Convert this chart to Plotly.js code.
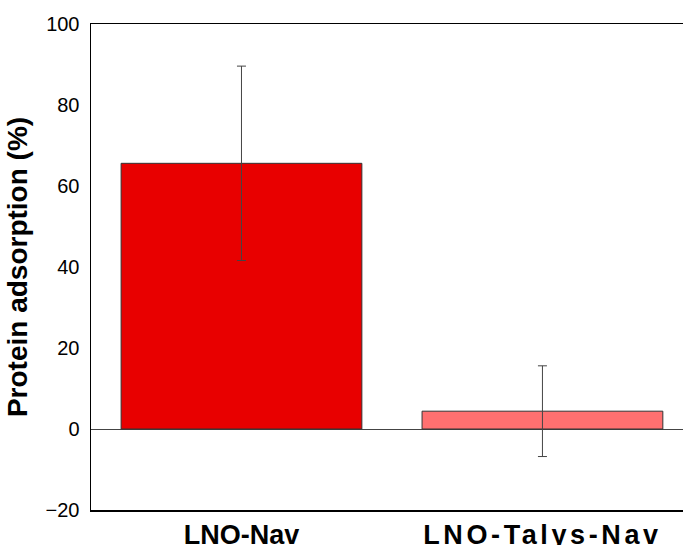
<!DOCTYPE html>
<html><head><meta charset="utf-8">
<script src="https://cdn.plot.ly/plotly-3.0.1.min.js"></script>
<style>html,body{margin:0;padding:0;background:#fff;}#chart{width:683px;height:545px;}
#chart .xtick:nth-of-type(2) text{letter-spacing:3.6px;}</style>
</head><body><div id="chart"></div>
<script>
const categories = ["LNO-Nav", "LNO-Talys-Nav"];
const adsorption = [65.6, 4.4];
const errors = [24.0, 11.2];
const barColors = ["#E80000", "#FF7070"];
const yTicks = [-20, 0, 20, 40, 60, 80, 100];

const trace = {
  type: "bar",
  x: [0, 1],
  y: adsorption,
  width: 0.8,
  marker: {color: barColors, line: {color: "#333", width: 1}},
  error_y: {type: "data", array: errors, visible: true, color: "#444", thickness: 1, width: 4.5}
};

const layout = {
  width: 683, height: 545,
  margin: {l: 91, r: 0, t: 24, b: 35},
  paper_bgcolor: "#fff", plot_bgcolor: "#fff",
  showlegend: false,
  xaxis: {
    range: [-0.5, 1.467],
    tickmode: "array", tickvals: [0, 1], ticktext: categories,
    ticks: "", showgrid: false, zeroline: false,
    showline: true, mirror: true, linecolor: "#000", linewidth: 1.5,
    tickfont: {family: "Arial, Liberation Sans, sans-serif", size: 27, color: "#000", weight: "bold"},
    ticklabelstandoff: 0
  },
  yaxis: {
    range: [-20, 100],
    tickmode: "array", tickvals: yTicks,
    ticks: "", showgrid: false,
    zeroline: true, zerolinecolor: "#444", zerolinewidth: 1,
    showline: true, linecolor: "#000", linewidth: 1.5,
    tickfont: {family: "Arial, Liberation Sans, sans-serif", size: 20, color: "#000"},
    ticklabelstandoff: 6,
    title: {text: "Protein adsorption (%)", standoff: 10,
      font: {family: "Arial, Liberation Sans, sans-serif", size: 28, color: "#000", weight: "bold"}}
  }
};

Plotly.newPlot("chart", [trace], layout, {displayModeBar: false, staticPlot: true});
</script>
</body></html>
